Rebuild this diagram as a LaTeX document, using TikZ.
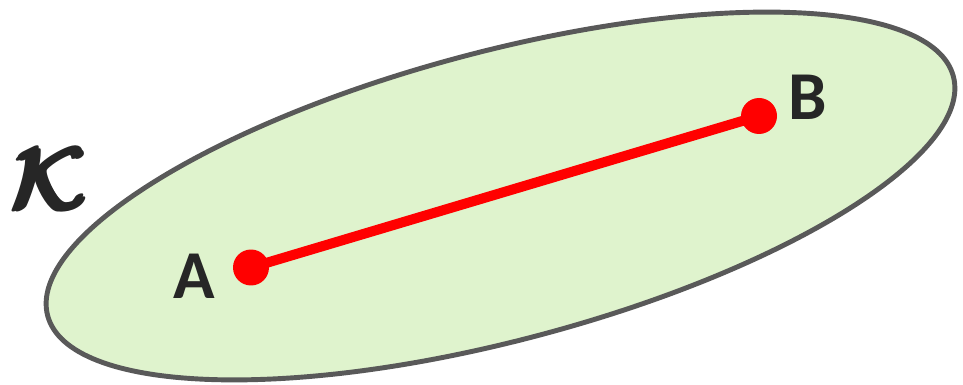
\RequirePackage{fix-cm}
\documentclass[tikz,border=0pt]{standalone}
\usepackage{amsmath}
\usepackage{fontspec}
\setmainfont{Carlito}
\usetikzlibrary{shapes.geometric}
\definecolor{setfill}{HTML}{DFF3CD}
\definecolor{setline}{HTML}{595959}
\definecolor{labelgray}{HTML}{262626}
\begin{document}
\begin{tikzpicture}[x=0.02cm,y=0.02cm,
	lbl/.style={text=labelgray,font=\fontsize{39}{40}\selectfont\bfseries,inner sep=0pt},
	pt/.style={circle,fill=red,inner sep=0pt,minimum size=0.72cm}]
			\useasboundingbox (0,0) rectangle (963,385);
			\node [ellipse,draw=setline,fill=setfill,line width=2.8pt,inner sep=0pt,
				minimum width=18.74cm,minimum height=5.78cm,rotate=14.8] (set) at (500.5,189) {};
			\node [lbl,font=\fontsize{50}{50}\selectfont\boldmath] (k) at (51,206.5) {$\pmb{\mathcal{K}}$};
			\node [pt] (a) at (251,117.5) {};
			\node [pt] (b) at (759,269) {};
			\node [lbl] (la) at (194.5,109) {A};
			\node [lbl] (lb) at (808,288) {B};
			\draw [-,red,line width=5.7pt] (a.center) to (b.center);
		\end{tikzpicture}
\end{document}
